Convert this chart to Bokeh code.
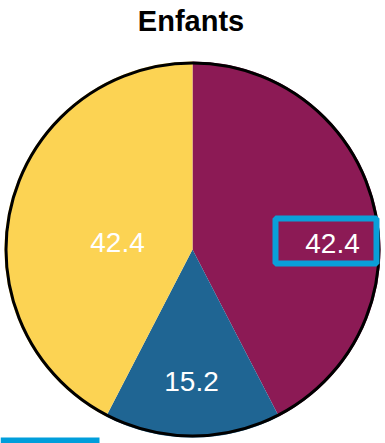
import math
import re
from bokeh.plotting import figure
from bokeh.models import Range1d, Label, ColumnDataSource
from bokeh.core.properties import value
from bokeh.embed import file_html
from bokeh.resources import INLINE

# ---- data ----
title_text = "Enfants"
categories = ["A", "B", "C"]
values = [42.4, 15.2, 42.4]
value_labels = ["42.4", "15.2", "42.4"]
colors = ["#8C1A55", "#1F6593", "#FCD353"]

# ---- layout (pixels of the page) ----
W, H = 385, 443
CX, CY = 192, 249       # pie centre in page pixels
S = 188.0               # pie radius in pixels
label_px = [(332, 243), (191, 381), (117, 242)]


def to_data(x, y):
    return (x - CX) / S, (CY - y) / S


x0, y1 = to_data(0, 0)
x1, y0 = to_data(W, H)

p = figure(width=W, height=H, output_backend="svg", toolbar_location=None,
           x_range=Range1d(x0, x1), y_range=Range1d(y0, y1),
           min_border=0, outline_line_color=None)
p.axis.visible = False
p.grid.visible = False
p.background_fill_color = "white"
p.border_fill_color = "white"

total = sum(values)
starts, ends = [], []
a = math.pi / 2
for v in values:
    sweep = 2 * math.pi * v / total
    starts.append(a - sweep)
    ends.append(a)
    a -= sweep

src = ColumnDataSource(dict(cat=categories, val=values, start=starts,
                            end=ends, color=colors))
p.wedge(x=0, y=0, radius=1.0, start_angle="start", end_angle="end",
        fill_color="color", line_color=None, source=src)
# outer border
p.circle(x=[0], y=[0], radius=1.0 - 1.5 / S, fill_color=None,
         line_color="black", line_width=3)

# value labels
lx, ly = zip(*[to_data(*q) for q in label_px])
p.text(x=list(lx), y=list(ly), text=value_labels, text_color="white",
       text_font=value("Liberation Sans"), text_font_size="28px",
       text_align="center", text_baseline="middle")

# highlight box around the first label
bx0, by0 = to_data(275, 218)
bx1, by1 = to_data(376, 263)
p.quad(left=[bx0], right=[bx1], top=[by0], bottom=[by1], fill_color=None,
       line_color="#0A9FD9", line_width=6)

# partial line at bottom left
qx0, qy0 = to_data(0, 437)
qx1, qy1 = to_data(99, 443)
p.quad(left=[qx0], right=[qx1], top=[qy0], bottom=[qy1],
       fill_color="#009EDB", line_color=None)

p.add_layout(Label(x=W / 2 - 2, y=H - 20, x_units="screen", y_units="screen",
                   text=title_text, text_font="Liberation Sans",
                   text_font_style="bold", text_font_size="29px",
                   text_align="center", text_baseline="middle",
                   text_color="black"))

html = file_html(p, INLINE)
html = re.sub(r"<body([^>]*)>", r'<body\1 style="margin:0">', html, count=1)
open("out.html", "w").write(html)
